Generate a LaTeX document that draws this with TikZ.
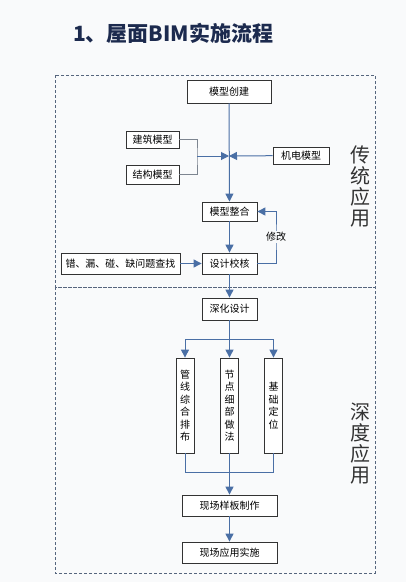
\documentclass[tikz,border=0pt]{standalone}
\usepackage{fontspec}
\setmainfont{Noto Sans CJK SC}
\usetikzlibrary{arrows.meta,positioning,calc}

\definecolor{bgwhite}{HTML}{F9FAFB}
\definecolor{titleblue}{HTML}{1C2A4E}
\definecolor{flowblue}{HTML}{4A6FA5}
\definecolor{wiregray}{HTML}{7D8590}
\definecolor{regiongray}{HTML}{56657D}

\tikzset{
  box/.style={draw=black!80, line width=0.8pt, fill=white, inner sep=0pt,
    minimum height=20pt, font=\fontsize{10}{12}\selectfont},
  vbox/.style={box, minimum width=18pt, minimum height=95pt, align=center,
    font=\fontsize{10}{12.5}\selectfont},
  arrow/.style={draw=flowblue, line width=1pt, -{Triangle[width=8pt,length=8pt]}},
  wire/.style={draw=flowblue, line width=1pt},
  bracket/.style={draw=wiregray, line width=0.9pt},
  region/.style={draw=regiongray, line width=0.6pt, dash pattern=on 3pt off 2pt},
  side/.style={align=center, text=black!80, inner sep=0pt,
    font=\fontsize{20}{21}\selectfont}
}

\begin{document}
\begin{tikzpicture}[x=1pt,y=-1pt]
  \fill[bgwhite] (0,0) rectangle (406,582);
  \useasboundingbox (0,0) rectangle (406,582);

  \node[anchor=west, inner sep=0pt, text=titleblue,
    font=\bfseries\fontsize{21}{21}\selectfont] (title) at (73,33) {1、屋面BIM实施流程};

  % two stages
  \draw[region] (55,75) rectangle (375,287);
  \draw[region] (55,287) rectangle (375,573);
  \node[side] (trad) at (360,186) {传\\统\\应\\用};
  \node[side] (deepapp) at (360,444) {深\\度\\应\\用};

  % upper part
  \node[box, minimum width=84pt, minimum height=23pt] (create) at (229,91.5) {模型创建};
  \node[box, minimum width=53pt, minimum height=17pt] (arch) at (152.5,139.5) {建筑模型};
  \node[box, minimum width=53pt, minimum height=19pt] (struct) at (152.5,174.5) {结构模型};
  \node[box, minimum width=56pt, minimum height=17pt] (mep) at (301,155.5) {机电模型};
  \node[box, minimum width=55pt, minimum height=19pt] (merge) at (229.5,211.5) {模型整合};
  \node[box, minimum width=55pt, minimum height=21pt] (check) at (229.5,263.5) {设计校核};
  \node[box, minimum width=119pt, minimum height=21pt] (find) at (120.5,263.5) {错、漏、碰、缺问题查找};
  \coordinate (join) at (229,156);
  \coordinate (bend) at (197,156);
  \coordinate (loop) at (276,237);

  \draw[bracket] (arch.east) -| (bend) |- (struct.east);
  \draw[arrow] (bend) -- (join);
  \draw[arrow] (mep) -- (join);
  \draw[arrow] (create) -- (merge);
  \draw[arrow] (merge) -- (check);
  \draw[arrow] (find) -- (check);
  \draw[arrow] (check.east) -| (loop) |- (merge.east);
  \node[fill=bgwhite, inner sep=1pt, font=\fontsize{10}{12}\selectfont] (fix) at (loop) {修改};

  % lower part
  \node[box, minimum width=55pt, minimum height=22pt] (deep) at (229.5,309) {深化设计};
  \node[vbox] (pipe) at (185,405.5) {管\\线\\综\\合\\排\\布};
  \node[vbox] (detail) at (229.5,405.5) {节\\点\\细\\部\\做\\法};
  \node[vbox] (base) at (273.5,405.5) {基\\础\\定\\位};
  \node[box, minimum width=95pt, minimum height=21pt] (sample) at (229.5,505.5) {现场样板制作};
  \node[box, minimum width=95pt, minimum height=21pt] (site) at (229.5,552.5) {现场应用实施};
  \coordinate (split) at (229.5,339);
  \coordinate (gather) at (229.5,472);

  \draw[arrow] (check) -- (deep);
  \draw[arrow] (deep) -- (detail);
  \draw[arrow] (split) -| (pipe);
  \draw[arrow] (split) -| (base);
  \draw[wire] (pipe) |- (gather);
  \draw[wire] (base) |- (gather);
  \draw[arrow] (detail) -- (sample);
  \draw[arrow] (sample) -- (site);
\end{tikzpicture}
\end{document}
